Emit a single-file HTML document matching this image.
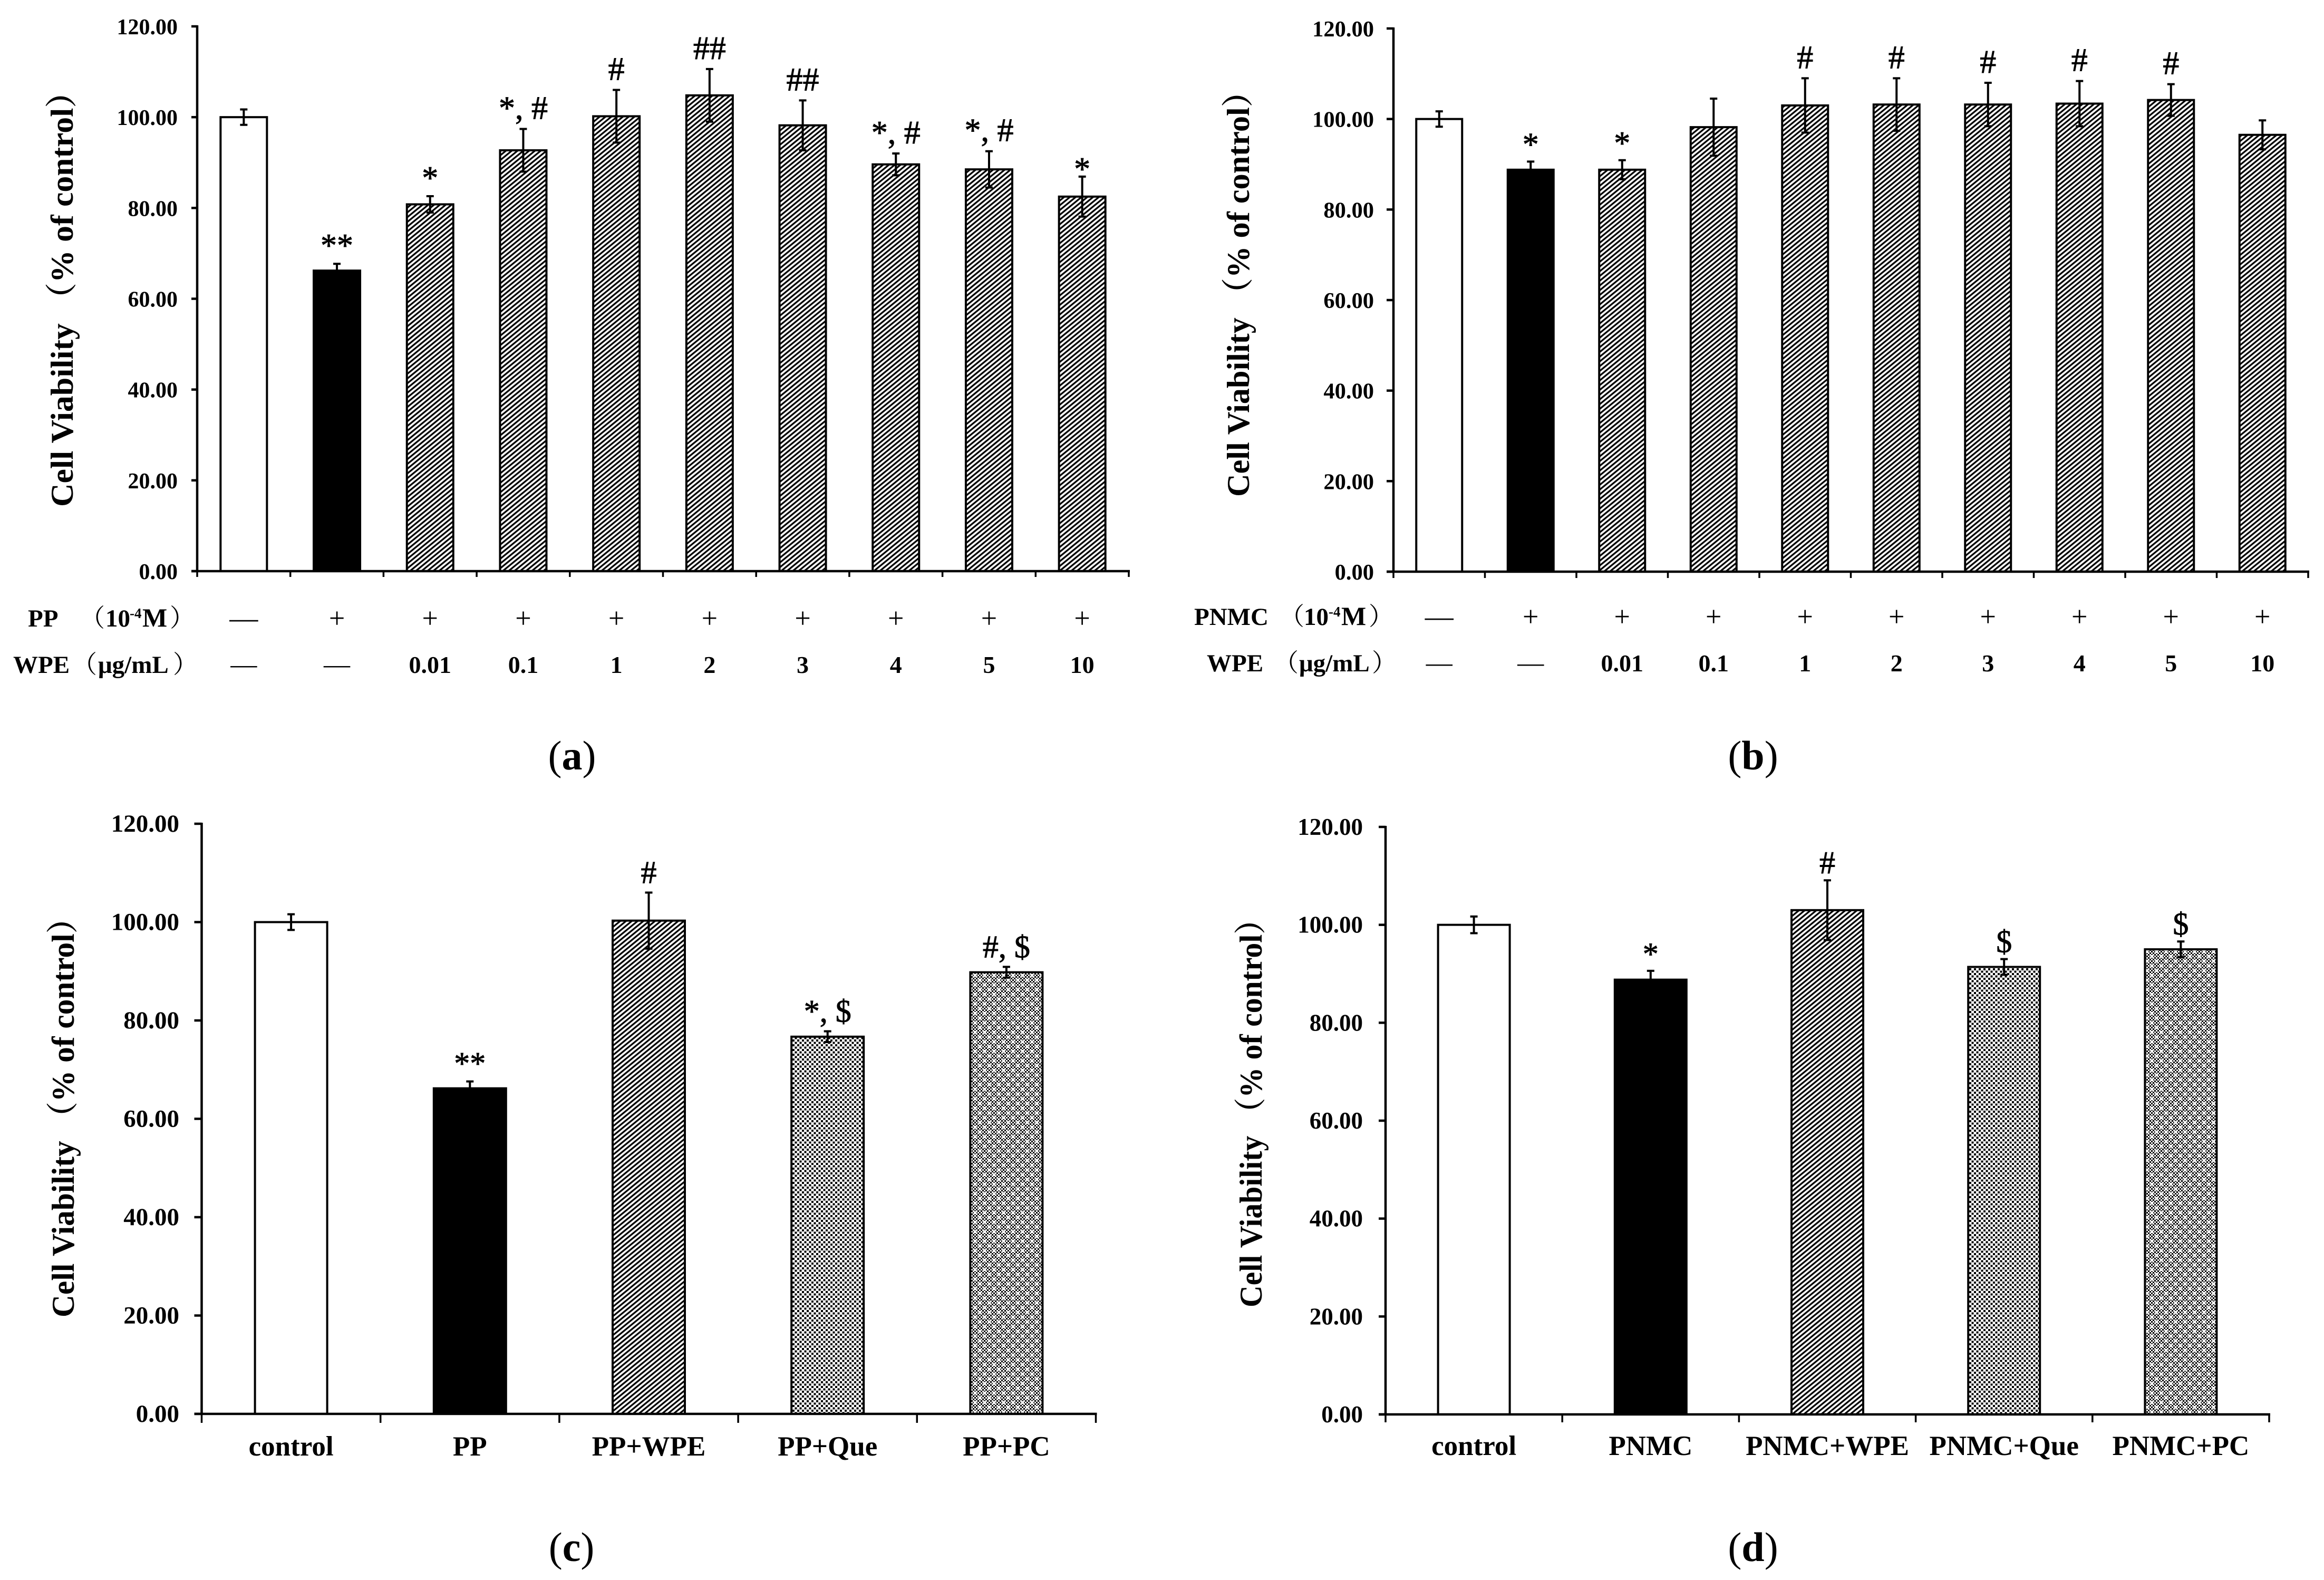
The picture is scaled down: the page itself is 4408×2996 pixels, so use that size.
<!DOCTYPE html>
<html lang="en">
<head>
<meta charset="utf-8">
<title>Cell viability bar charts</title>
<style>
html,body{margin:0;padding:0;background:#fff;width:4408px;height:2996px;overflow:hidden}
svg{display:block}
text{font-family:"Liberation Serif","Noto Serif CJK SC",serif;fill:#000}
.b{font-weight:bold}
.cjk{font-family:"Noto Serif CJK SC",serif;font-weight:400}
.cjkb{font-family:"Noto Serif CJK SC",serif;font-weight:700}
</style>
</head>
<body>
<svg id="figure" xmlns="http://www.w3.org/2000/svg" width="4408" height="2996" viewBox="0 0 4408 2996">
<defs>
  <pattern id="hatch" patternUnits="userSpaceOnUse" width="11" height="9">
    <rect width="11" height="9" fill="#fff"/>
    <path d="M-5.5,4.5 L5.5,-4.5 M0,9 L11,0 M5.5,13.5 L16.5,4.5" stroke="#000" stroke-width="3.3" fill="none"/>
  </pattern>
  <pattern id="dots" patternUnits="userSpaceOnUse" width="9" height="9">
    <rect width="9" height="9" fill="#fff"/>
    <rect x="0" y="0" width="4" height="4" fill="#000"/>
    <rect x="4.5" y="4.5" width="4" height="4" fill="#000"/>
  </pattern>
  <pattern id="chk" patternUnits="userSpaceOnUse" width="6" height="6">
    <rect width="6" height="6" fill="#000"/>
    <rect x="0" y="0" width="3" height="3" fill="#fff"/>
    <rect x="3" y="3" width="3" height="3" fill="#fff"/>
  </pattern>
  <pattern id="grain" patternUnits="userSpaceOnUse" width="18" height="18">
    <rect width="18" height="18" fill="url(#chk)"/>
    <circle cx="4.5" cy="4.5" r="3" fill="#fff"/>
    <circle cx="13.5" cy="13.5" r="3" fill="#fff"/>
  </pattern>
</defs>

<g id="panel-a">
  <text class="b" transform="translate(138,961) rotate(-90)" font-size="60" textLength="818" lengthAdjust="spacingAndGlyphs">Cell Viability <tspan class="cjkb">（</tspan>% of control<tspan class="cjkb">）</tspan></text>
  <text class="b" y="1188" font-size="47"><tspan x="53">PP</tspan><tspan class="cjk" x="152">（</tspan><tspan x="200">10</tspan><tspan font-size="27" x="246" dy="-16">-4</tspan><tspan font-size="50" x="270" dy="16">M</tspan><tspan class="cjk" x="322">）</tspan></text>
  <text class="b" y="1276" font-size="47"><tspan x="25">WPE</tspan><tspan class="cjk" x="137">（</tspan><tspan x="186">μg/mL</tspan><tspan class="cjk" x="328">）</tspan></text>
  <text x="1085" y="1459" text-anchor="middle" font-size="78">(<tspan class="b">a</tspan>)</text>
</g>
<g id="panel-b">
  <text class="b" transform="translate(2369,942) rotate(-90)" font-size="60" textLength="799" lengthAdjust="spacingAndGlyphs">Cell Viability <tspan class="cjkb">（</tspan>% of control<tspan class="cjkb">）</tspan></text>
  <text class="b" y="1185" font-size="47"><tspan x="2265">PNMC</tspan><tspan class="cjk" x="2427">（</tspan><tspan x="2473">10</tspan><tspan font-size="27" x="2520" dy="-16">-4</tspan><tspan font-size="50" x="2544" dy="16">M</tspan><tspan class="cjk" x="2596">）</tspan></text>
  <text class="b" y="1273" font-size="47"><tspan x="2289">WPE</tspan><tspan class="cjk" x="2416">（</tspan><tspan x="2464">μg/mL</tspan><tspan class="cjk" x="2602">）</tspan></text>
  <text x="3325" y="1459" text-anchor="middle" font-size="78">(<tspan class="b">b</tspan>)</text>
</g>
<g id="panel-c">
  <text class="b" transform="translate(140,2498) rotate(-90)" font-size="60" textLength="787" lengthAdjust="spacingAndGlyphs">Cell Viability <tspan class="cjkb">（</tspan>% of control<tspan class="cjkb">）</tspan></text>
  <text x="1084" y="2960" text-anchor="middle" font-size="78">(<tspan class="b">c</tspan>)</text>
</g>
<g id="panel-d">
  <text class="b" transform="translate(2393,2479) rotate(-90)" font-size="60" textLength="765" lengthAdjust="spacingAndGlyphs">Cell Viability <tspan class="cjkb">（</tspan>% of control<tspan class="cjkb">）</tspan></text>
  <text x="3325" y="2960" text-anchor="middle" font-size="78">(<tspan class="b">d</tspan>)</text>
</g>
</svg>

<script>
const yTickValues = [0, 20, 40, 60, 80, 100, 120];
const yTickLabels = ['0.00', '20.00', '40.00', '60.00', '80.00', '100.00', '120.00'];

const aValues = [100, 66.2, 80.8, 92.7, 100.2, 104.8, 98.2, 89.6, 88.5, 82.5];
const aErrors = [1.7, 1.5, 1.8, 4.7, 5.8, 5.8, 5.5, 2.4, 4.0, 4.4];
const aGroups = ['control', 'toxin', 'wpe', 'wpe', 'wpe', 'wpe', 'wpe', 'wpe', 'wpe', 'wpe'];
const aMarks = ['', '**', '*', '*, #', '#', '##', '##', '*, #', '*, #', '*'];
const aRowOne = ['—', '+', '+', '+', '+', '+', '+', '+', '+', '+'];
const aRowTwo = ['—', '—', '0.01', '0.1', '1', '2', '3', '4', '5', '10'];

const bValues = [100, 88.8, 88.8, 98.2, 103, 103.2, 103.2, 103.4, 104.2, 96.5];
const bErrors = [1.7, 1.8, 2.1, 6.3, 6.0, 5.8, 4.8, 5.0, 3.5, 3.2];
const bGroups = ['control', 'toxin', 'wpe', 'wpe', 'wpe', 'wpe', 'wpe', 'wpe', 'wpe', 'wpe'];
const bMarks = ['', '*', '*', '', '#', '#', '#', '#', '#', ''];
const bRowOne = ['—', '+', '+', '+', '+', '+', '+', '+', '+', '+'];
const bRowTwo = ['—', '—', '0.01', '0.1', '1', '2', '3', '4', '5', '10'];

const cValues = [100, 66.2, 100.3, 76.7, 89.8];
const cErrors = [1.6, 1.4, 5.7, 1.1, 1.1];
const cGroups = ['control', 'toxin', 'wpe', 'que', 'pc'];
const cMarks = ['', '**', '#', '*, $', '#, $'];
const cCategories = ['control', 'PP', 'PP+WPE', 'PP+Que', 'PP+PC'];

const dValues = [100, 88.8, 103, 91.4, 95];
const dErrors = [1.7, 1.8, 6.1, 1.6, 1.6];
const dGroups = ['control', 'toxin', 'wpe', 'que', 'pc'];
const dMarks = ['', '*', '#', '$', '$'];
const dCategories = ['control', 'PNMC', 'PNMC+WPE', 'PNMC+Que', 'PNMC+PC'];

const SVG_NS = 'http://www.w3.org/2000/svg';
const FILLS = {control: '#fff', toxin: '#000', wpe: 'url(#hatch)', que: 'url(#dots)', pc: 'url(#grain)'};

function shape(parent, tag, attrs) {
  const el = document.createElementNS(SVG_NS, tag);
  for (const k in attrs) el.setAttribute(k, attrs[k]);
  parent.appendChild(el);
  return el;
}

function drawPanel(p) {
  const root = document.getElementById(p.id);
  const n = p.values.length;
  const yOf = v => p.y0 - (p.y0 - p.y120) * v / 120;
  const xOf = i => p.x0 + p.step * (i + 0.5);
  const xEnd = p.x0 + p.step * n;

  p.values.forEach((v, i) => {
    const bar = shape(root, 'rect', {
      x: xOf(i) - p.barW / 2, y: yOf(v), width: p.barW, height: p.y0 - yOf(v),
      fill: FILLS[p.groups[i]], stroke: '#000', 'stroke-width': 4
    });
    
    

    const e = p.errors[i];
    const hi = yOf(v + e), lo = yOf(v - e), cx = xOf(i);
    const err = shape(root, 'path', {
      d: 'M' + (cx - 7) + ',' + hi + 'H' + (cx + 7) + 'M' + cx + ',' + hi + 'V' + lo + 'M' + (cx - 7) + ',' + lo + 'H' + (cx + 7),
      stroke: '#000', 'stroke-width': 4, fill: 'none'
    });
    
    

    const m = p.marks[i];
    if (m) {
      const onlyStar = m.indexOf('#') < 0 && m.indexOf('$') < 0;
      let gap = onlyStar ? p.starGap : p.symbolGap;
      if (p.key === 'a' && i === n - 1) gap = -6;
      const mark = shape(root, 'text', {
        x: cx, y: hi - gap, 'text-anchor': 'middle', 'font-size': p.markSize,
        stroke: '#000', 'stroke-width': 0.9, 'xml:space': 'preserve'
      });
      mark.textContent = m;
      
      
    }
  });

  const yAxis = shape(root, 'line', {x1: p.x0, x2: p.x0, y1: p.y120 - 2, y2: p.y0, stroke: '#000', 'stroke-width': 4.5});
  
  

  const xAxis = shape(root, 'line', {x1: p.x0 - p.yTick, x2: xEnd + 2, y1: p.y0, y2: p.y0, stroke: '#000', 'stroke-width': 4.5});
  
  

  yTickValues.forEach((v, i) => {
    const tick = shape(root, 'line', {x1: p.x0 - p.yTick, x2: p.x0, y1: yOf(v), y2: yOf(v), stroke: '#000', 'stroke-width': 4.5});
    
    
    const label = shape(root, 'text', {
      x: p.labelRight, y: yOf(v) + 15, 'text-anchor': 'end', 'font-size': p.tickSize, 'class': 'b'
    });
    label.textContent = yTickLabels[i];
    
    
  });

  for (let i = 0; i <= n; i++) {
    const tx = p.x0 + p.step * i;
    const tick = shape(root, 'line', {x1: tx, x2: tx, y1: p.y0, y2: p.y0 + p.xTick, stroke: '#000', 'stroke-width': 3.5});
    
    
  }

  if (p.categories) {
    p.categories.forEach((c, i) => {
      const label = shape(root, 'text', {
        x: xOf(i), y: p.catY, 'text-anchor': 'middle', 'font-size': 53, 'class': 'b'
      });
      label.textContent = c;
      
      
    });
  }
  if (p.rowOne) {
    p.rowOne.forEach((c, i) => {
      const cell = shape(root, 'text', {
        x: xOf(i), y: p.rowOneY + 2, 'text-anchor': 'middle', 'font-size': 54
      });
      cell.textContent = c;
      
      
    });
    p.rowTwo.forEach((c, i) => {
      const numeric = c !== '—';
      const cell = shape(root, 'text', {
        x: xOf(i), y: p.rowTwoY, 'text-anchor': 'middle',
        'font-size': numeric ? 46 : 50, 'class': numeric ? 'b' : ''
      });
      cell.textContent = c;
      
      
    });
  }
}

drawPanel({id: 'panel-a', key: 'a', x0: 374, step: 176.7, barW: 88, y0: 1083, y120: 50,
  values: aValues, errors: aErrors, groups: aGroups, marks: aMarks,
  rowOne: aRowOne, rowTwo: aRowTwo, rowOneY: 1188, rowTwoY: 1276,
  yTick: 11, xTick: 11, labelRight: 337, tickSize: 42, markSize: 62, starGap: 14, symbolGap: 19});

drawPanel({id: 'panel-b', key: 'b', x0: 2643, step: 173.5, barW: 87, y0: 1084, y120: 54,
  values: bValues, errors: bErrors, groups: bGroups, marks: bMarks,
  rowOne: bRowOne, rowTwo: bRowTwo, rowOneY: 1185, rowTwoY: 1273,
  yTick: 13, xTick: 12, labelRight: 2606, tickSize: 42.5, markSize: 62, starGap: 12, symbolGap: 19});

drawPanel({id: 'panel-c', key: 'c', x0: 382.5, step: 339.2, barW: 137, y0: 2681, y120: 1562,
  values: cValues, errors: cErrors, groups: cGroups, marks: cMarks, categories: cCategories, catY: 2760,
  yTick: 14, xTick: 17, labelRight: 340, tickSize: 47, markSize: 60, starGap: 14, symbolGap: 18});

drawPanel({id: 'panel-d', key: 'd', x0: 2628, step: 335.2, barW: 136, y0: 2682, y120: 1568,
  values: dValues, errors: dErrors, groups: dGroups, marks: dMarks, categories: dCategories, catY: 2759,
  yTick: 13, xTick: 15, labelRight: 2585, tickSize: 45, markSize: 60, starGap: 12, symbolGap: 13});
</script>
</body>
</html>
